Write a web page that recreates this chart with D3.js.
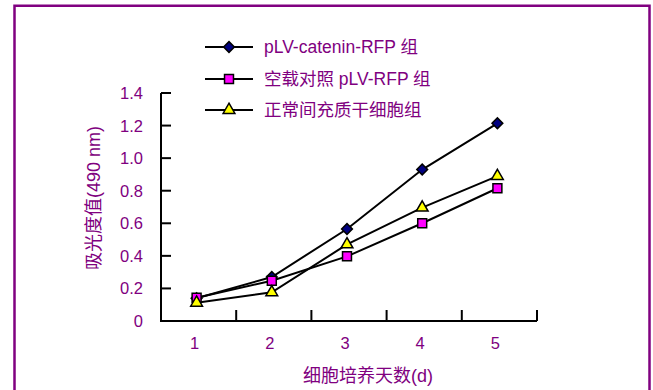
<!DOCTYPE html>
<html><head><meta charset="utf-8">
<script src="https://cdn.jsdelivr.net/npm/d3@7"></script>
<style>body{margin:0;background:#fff;}svg{display:block;}</style>
</head><body>
<svg id="c" width="653" height="390"></svg>
<script>
const days = [1, 2, 3, 4, 5];
const yTicks = [0, 0.2, 0.4, 0.6, 0.8, 1.0, 1.2, 1.4];
const seriesNames = ["pLV-catenin-RFP 组", "空载对照 pLV-RFP 组", "正常间充质干细胞组"];
const cateninValues = [0.14, 0.27, 0.565, 0.93, 1.214];
const emptyValues = [0.143, 0.247, 0.397, 0.60, 0.815];
const normalValues = [0.112, 0.176, 0.47, 0.696, 0.89];
const yTitle = "吸光度值(490 nm)";
const xTitle = "细胞培养天数(d)";

const purple = "#800080";
const series = [
  {name: seriesNames[0], values: cateninValues, shape: d3.symbolSquare, rot: 45, fill: "#000080", size: 58},
  {name: seriesNames[1], values: emptyValues, shape: d3.symbolSquare, rot: 0, fill: "#ff00ff", size: 80},
  {name: seriesNames[2], values: normalValues, shape: d3.symbolTriangle, rot: 0, fill: "#ffff00", size: 60}
];

const svg = d3.select("#c");
const font = "'Liberation Sans', Arial, 'Noto Sans CJK SC', sans-serif";

// frame
svg.append("path").attr("d", "M14.5,400 V5.8 H649.5 V400")
  .attr("fill", "none").attr("stroke", purple).attr("stroke-width", 2.5);

const x = d3.scaleBand().domain(days).range([161, 537]).padding(0);
const y = d3.scaleLinear().domain([0, 1.4]).range([321, 93]);

const g = svg.append("g");
// y axis line + inward ticks
g.append("line").attr("x1", 161).attr("x2", 161).attr("y1", y(1.4)).attr("y2", y(0))
  .attr("stroke", "#000").attr("stroke-width", 2);
g.selectAll(".yt").data(yTicks.slice(1)).join("line")
  .attr("x1", 161).attr("x2", 171).attr("y1", d => y(d)).attr("y2", d => y(d))
  .attr("stroke", "#000").attr("stroke-width", 2);
g.selectAll(".yl").data(yTicks).join("text")
  .attr("x", 143).attr("y", d => y(d)).attr("dy", "0.36em")
  .attr("text-anchor", "end").attr("fill", purple)
  .style("font-family", font).style("font-size", "16.5px")
  .text(d => d === 0 ? "0" : d.toFixed(1));

// x axis
g.append("line").attr("x1", 160).attr("x2", 537).attr("y1", y(0)).attr("y2", y(0))
  .attr("stroke", "#000").attr("stroke-width", 2);
g.selectAll(".xt").data(days).join("line")
  .attr("x1", d => x(d) + x.bandwidth()).attr("x2", d => x(d) + x.bandwidth())
  .attr("y1", y(0)).attr("y2", y(0) - 11)
  .attr("stroke", "#000").attr("stroke-width", 2);
g.selectAll(".xl").data(days).join("text")
  .attr("x", d => x(d) + x.bandwidth() / 2 - 4).attr("y", 349)
  .attr("text-anchor", "middle").attr("fill", purple)
  .style("font-family", font).style("font-size", "16.5px")
  .text(d => d);

// titles
svg.append("text").attr("x", 368).attr("y", 382).attr("text-anchor", "middle")
  .attr("fill", purple).style("font-family", font).style("font-size", "18px").text(xTitle);
svg.append("text").attr("transform", "translate(100,198) rotate(-90)").attr("text-anchor", "middle")
  .attr("fill", purple).style("font-family", font).style("font-size", "18px").text(yTitle);

const cx = d => x(d) + x.bandwidth() / 2 - 2;
const line = d3.line().x((v, i) => cx(days[i])).y(v => y(v));

series.forEach(s => {
  g.append("path").attr("d", line(s.values)).attr("fill", "none")
    .attr("stroke", "#000").attr("stroke-width", 2);
});
series.forEach(s => {
  g.selectAll(null).data(s.values).join("path")
    .attr("d", d3.symbol().type(s.shape).size(s.size))
    .attr("transform", (v, i) => `translate(${cx(days[i])},${y(v)}) rotate(${s.rot})`)
    .attr("fill", s.fill).attr("stroke", "#000").attr("stroke-width", 1.5);
});

// legend
const legendY = [47, 79, 110];
const lg = svg.append("g");
series.forEach((s, i) => {
  const ly = legendY[i];
  lg.append("line").attr("x1", 205).attr("x2", 253).attr("y1", ly).attr("y2", ly)
    .attr("stroke", "#000").attr("stroke-width", 2);
  lg.append("path").attr("d", d3.symbol().type(s.shape).size(s.size))
    .attr("transform", `translate(229,${ly}) rotate(${s.rot})`)
    .attr("fill", s.fill).attr("stroke", "#000").attr("stroke-width", 1.5);
  lg.append("text").attr("x", 264).attr("y", ly).attr("dy", "0.36em")
    .attr("fill", purple).style("font-family", font).style("font-size", "17.5px")
    .text(s.name);
});
</script>
</body></html>
